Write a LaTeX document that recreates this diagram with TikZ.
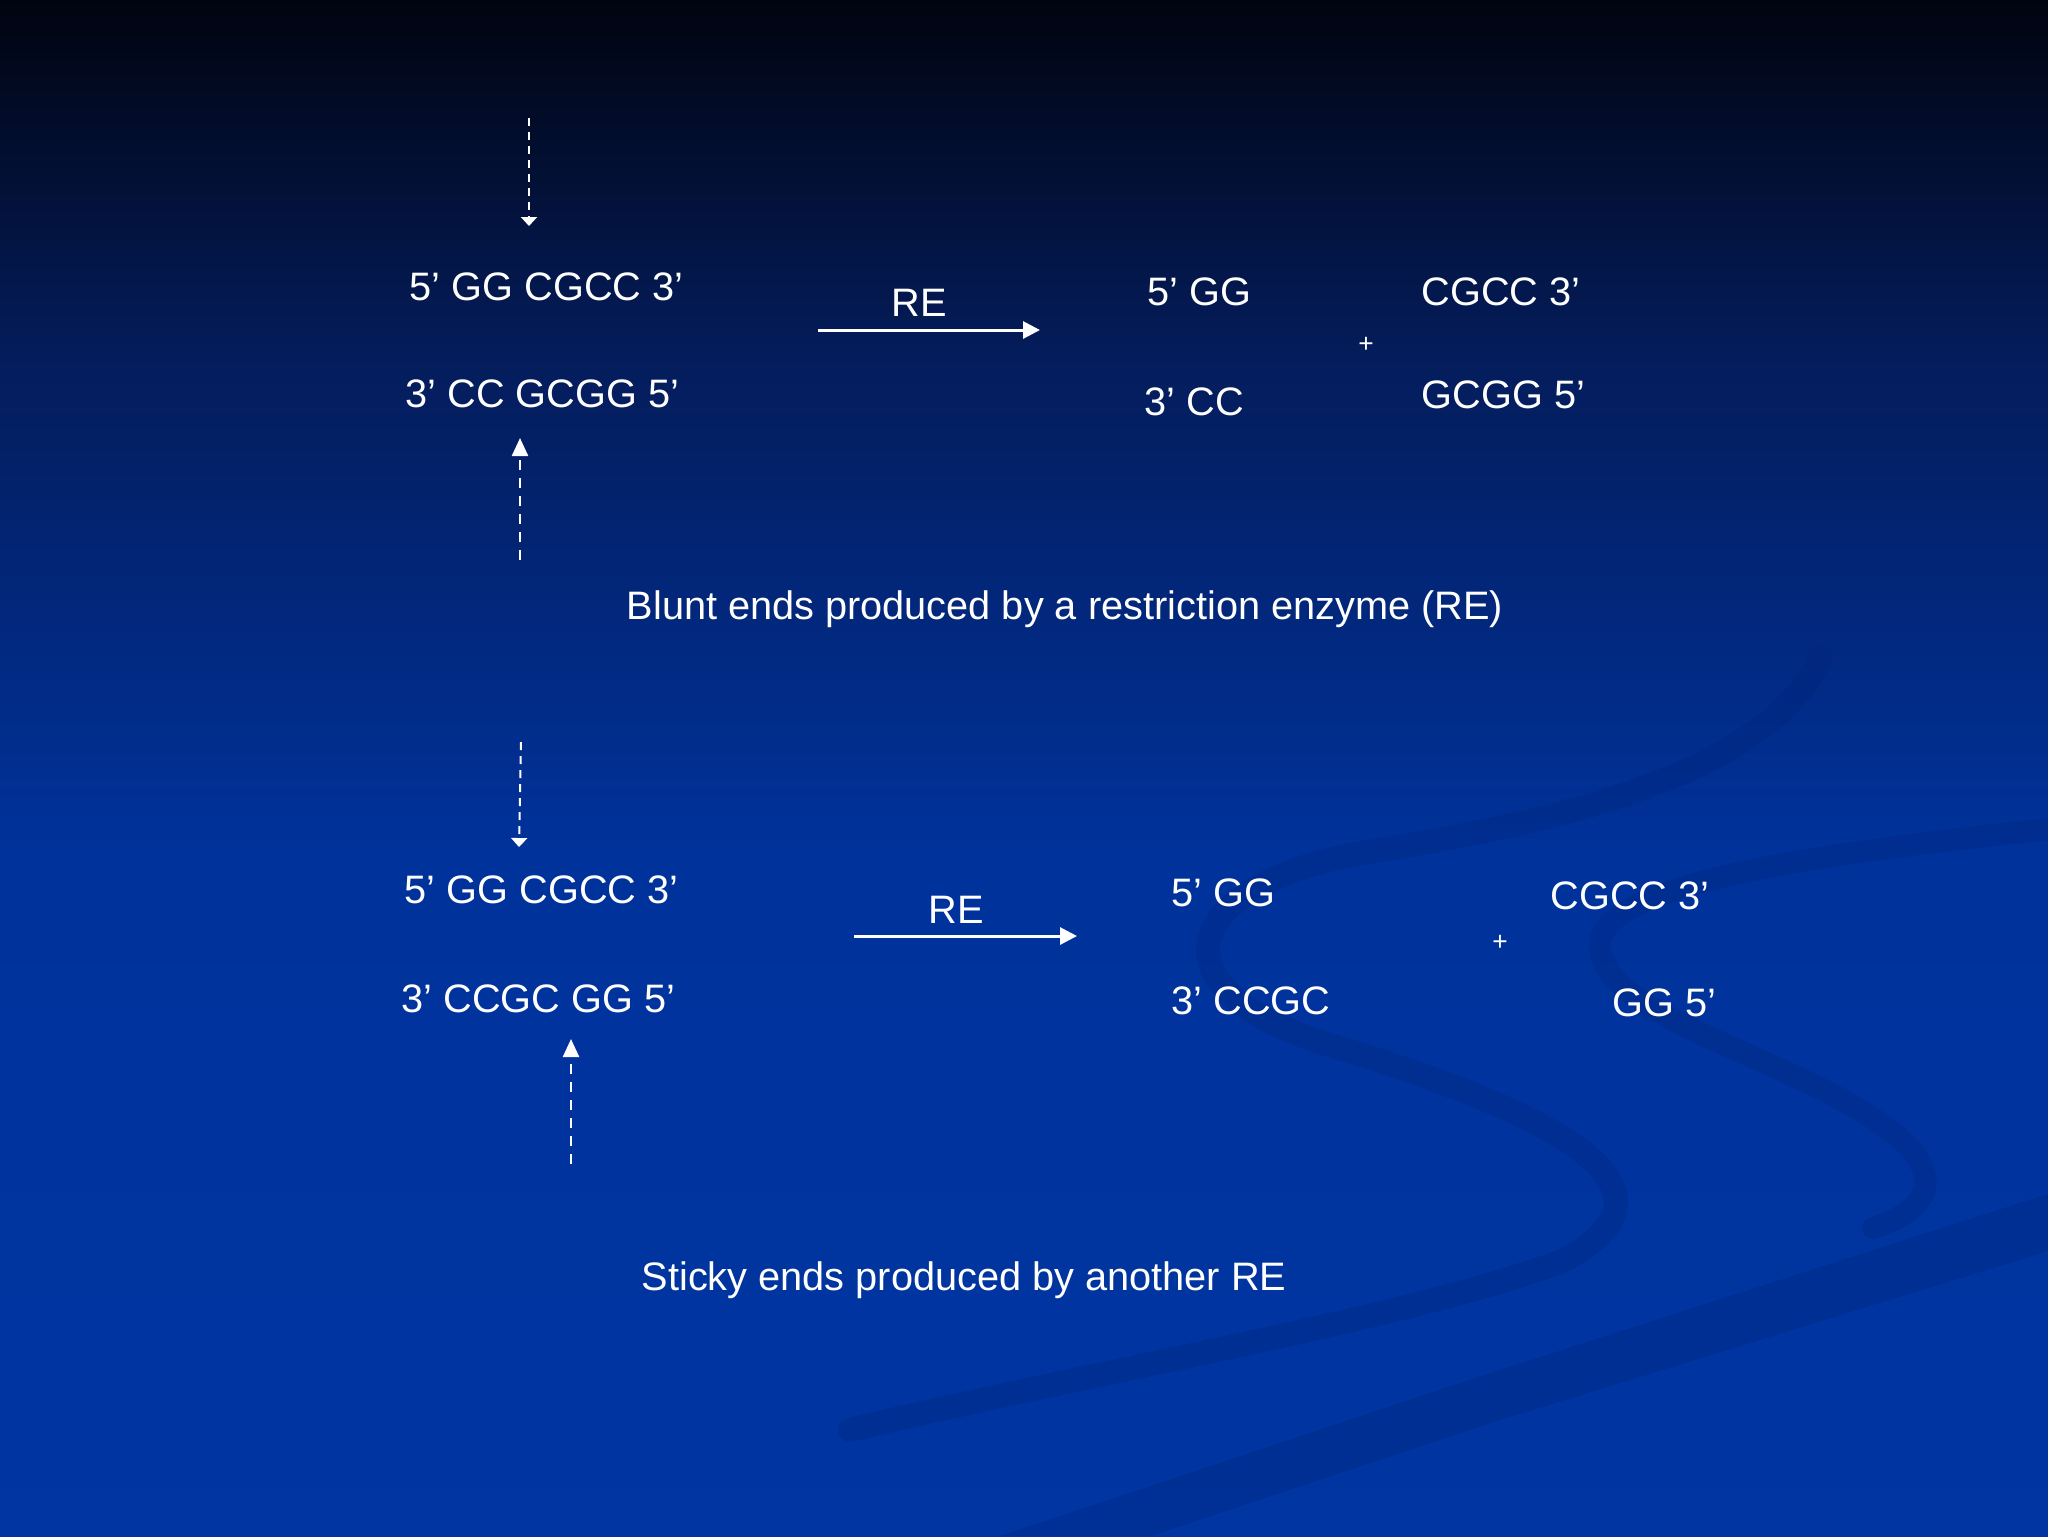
\documentclass[tikz,border=0pt]{standalone}
\usepackage{fontspec}
\setmainfont{Liberation Sans}
\usetikzlibrary{arrows.meta}
\definecolor{slidetop}{RGB}{1,4,16}
\definecolor{slidemid}{RGB}{4,28,90}
\definecolor{slideblue}{RGB}{0,50,155}
\definecolor{slidelow}{RGB}{0,53,162}
\definecolor{swirl}{RGB}{0,36,120}

\tikzset{
  dna/.style={text=white, inner sep=0pt, anchor=base west,
    font=\fontsize{11.3}{13.6}\selectfont},
  plus/.style={text=white, inner sep=0pt, font=\fontsize{7.5}{9}\selectfont},
  cutdown/.style={white, line width=0.2mm, dash pattern=on 0.8mm off 0.6mm,
    -{Triangle[length=0.9mm,width=1.6mm]}},
  cutup/.style={white, line width=0.25mm, dash pattern=on 1mm off 0.8mm,
    -{Triangle[length=1.8mm,width=1.6mm]}},
  rearrow/.style={white, line width=0.3mm, -{Triangle[length=1.7mm,width=1.7mm]}},
  swirlband/.style={swirl, opacity=0.3, line cap=round}
}

\begin{document}
\begin{tikzpicture}[x=0.1mm,y=-0.1mm]

  % background
  \useasboundingbox (0,0) rectangle (2048,1536);
  \shade[top color=slidetop, bottom color=slidemid] (0,0) rectangle (2048,350);
  \shade[top color=slidemid, bottom color=slideblue] (0,350) rectangle (2048,850);
  \shade[top color=slideblue, bottom color=slidelow] (0,850) rectangle (2048,1536);

  % swirl
  \draw[swirlband, line width=2.4mm] (1821,657)
    .. controls (1760,790) and (1500,830) .. (1350,855)
    .. controls (1180,890) and (1150,990) .. (1330,1045)
    .. controls (1560,1115) and (1700,1190) .. (1560,1262)
    .. controls (1400,1320) and (1100,1370) .. (850,1430);
  \draw[swirlband, line width=2.2mm] (2060,828)
    .. controls (1850,850) and (1600,880) .. (1600,945)
    .. controls (1600,1010) and (1760,1050) .. (1860,1110)
    .. controls (1960,1170) and (1930,1210) .. (1873,1228);
  \fill[swirl, opacity=0.3] (2048,1194) -- (2048,1251) -- (1500,1420)
    -- (1150,1536) -- (1000,1536) -- (1500,1370) -- cycle;

  % blunt ends
  \node[dna] (bluntFwd) at (409,300) {5’ GG CGCC 3’};
  \node[dna] (bluntRev) at (405,407) {3’ CC GCGG 5’};
  \coordinate (bluntCutA) at (529,118);
  \coordinate (bluntCutATip) at (529,226);
  \coordinate (bluntCutB) at (520,560);
  \coordinate (bluntCutBTip) at (520,438);
  \draw[cutdown] (bluntCutA) -- (bluntCutATip);
  \draw[cutup] (bluntCutB) -- (bluntCutBTip);

  \node[dna, anchor=base] (bluntRE) at (919,316) {RE};
  \coordinate (bluntArrA) at (818,330);
  \coordinate (bluntArrB) at (1040,330);
  \draw[rearrow] (bluntArrA) -- (bluntArrB);

  \node[dna] (bluntLeftTop) at (1147,305) {5’ GG};
  \node[dna] (bluntLeftBot) at (1144,415) {3’ CC};
  \node[plus] (bluntPlus) at (1366,345) {+};
  \node[dna] (bluntRightTop) at (1421,305) {CGCC 3’};
  \node[dna] (bluntRightBot) at (1421,408) {GCGG 5’};

  \node[dna] (bluntCaption) at (626,619)
    {Blunt ends produced by a restriction enzyme (RE)};

  % sticky ends
  \node[dna] (stickyFwd) at (404,903) {5’ GG CGCC 3’};
  \node[dna] (stickyRev) at (401,1012) {3’ CCGC GG 5’};
  \coordinate (stickyCutA) at (521,742);
  \coordinate (stickyCutATip) at (519,847);
  \coordinate (stickyCutB) at (571,1164);
  \coordinate (stickyCutBTip) at (571,1039);
  \draw[cutdown] (stickyCutA) -- (stickyCutATip);
  \draw[cutup] (stickyCutB) -- (stickyCutBTip);

  \node[dna, anchor=base] (stickyRE) at (956,923) {RE};
  \coordinate (stickyArrA) at (854,936);
  \coordinate (stickyArrB) at (1077,936);
  \draw[rearrow] (stickyArrA) -- (stickyArrB);

  \node[dna] (stickyLeftTop) at (1171,906) {5’ GG};
  \node[dna] (stickyLeftBot) at (1171,1014) {3’ CCGC};
  \node[plus] (stickyPlus) at (1500,943) {+};
  \node[dna] (stickyRightTop) at (1550,909) {CGCC 3’};
  \node[dna] (stickyRightBot) at (1612,1016) {GG 5’};

  \node[dna] (stickyCaption) at (641,1290)
    {Sticky ends produced by another RE};

\end{tikzpicture}
\end{document}
